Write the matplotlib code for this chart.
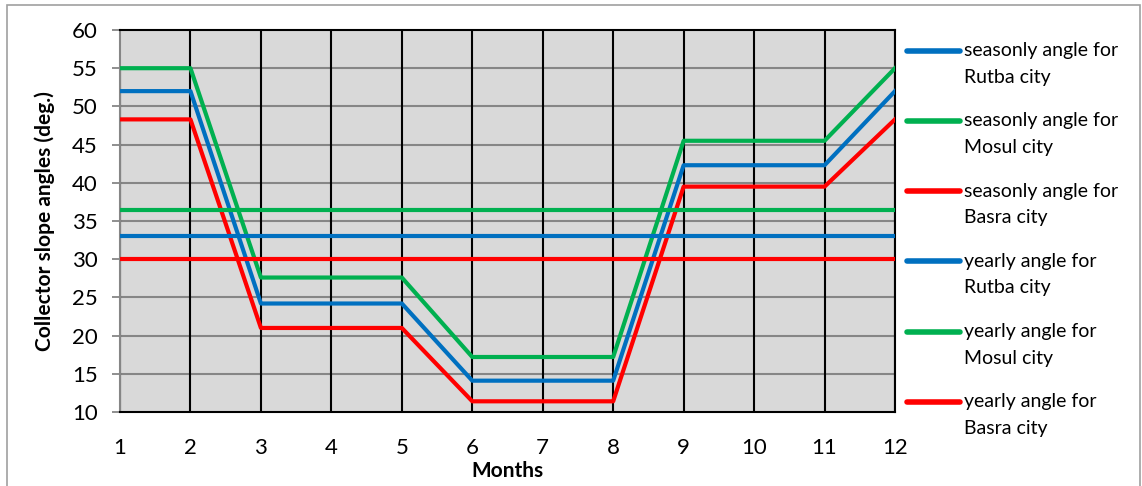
import matplotlib
matplotlib.use("Agg")
import matplotlib.pyplot as plt
from matplotlib.lines import Line2D
from matplotlib.patches import Rectangle

months = list(range(1, 13))

# seasonal tilt (winter, spring, summer, autumn, winter)
rutba_seasonal = [52.0, 52.0, 24.2, 24.2, 24.2, 14.1, 14.1, 14.1, 42.3, 42.3, 42.3, 52.0]
mosul_seasonal = [55.0, 55.0, 27.6, 27.6, 27.6, 17.2, 17.2, 17.2, 45.5, 45.5, 45.5, 55.0]
basra_seasonal = [48.3, 48.3, 21.0, 21.0, 21.0, 11.4, 11.4, 11.4, 39.5, 39.5, 39.5, 48.3]

# yearly fixed tilt
rutba_yearly = 33.1
mosul_yearly = 36.4
basra_yearly = 30.0

blue = "#0070c0"
green = "#00b050"
red = "#ff0000"

plt.rcParams["font.family"] = ["Lato", "DejaVu Sans"]

W, H = 1142, 486
fig = plt.figure(figsize=(W / 100, H / 100), dpi=100)
ax = fig.add_axes([120 / W, 1 - 412 / H, 775 / W, 382 / H])
ax.set_facecolor("#d9d9d9")

series = [
    (rutba_seasonal, blue, "seasonly angle for", "Rutba city"),
    (mosul_seasonal, green, "seasonly angle for", "Mosul city"),
    (basra_seasonal, red, "seasonly angle for", "Basra city"),
    ([rutba_yearly] * 12, blue, "yearly angle for", "Rutba city"),
    ([mosul_yearly] * 12, green, "yearly angle for", "Mosul city"),
    ([basra_yearly] * 12, red, "yearly angle for", "Basra city"),
]
for vals, col, l1, l2 in series:
    ax.plot(months, vals, color=col, lw=3, zorder=3)

ax.set_xlim(1, 12)
ax.set_ylim(10, 60)
ax.set_xticks(months)
ax.set_yticks(range(10, 61, 5))
ax.tick_params(axis="x", length=0, labelsize=16, pad=19)
ax.tick_params(axis="y", length=6, width=1.3, color="#868686", labelsize=16, pad=10)

for y in range(15, 60, 5):
    ax.axhline(y, color="#868686", lw=1.5, zorder=1)
for x in months[1:]:
    ax.axvline(x, color="black", lw=1.5, zorder=1.5)
ax.vlines(1, 10, max(mosul_seasonal), color="black", lw=1.5, zorder=2)

for side in ["top", "right", "bottom"]:
    ax.spines[side].set_color("black")
    ax.spines[side].set_linewidth(1.5)
ax.spines["left"].set_color("#868686")
ax.spines["left"].set_linewidth(1.5)

ax.set_xlabel("Months", fontsize=15, fontweight="bold", labelpad=2)
ax.set_ylabel("Collector slope angles (deg.)", fontsize=15, fontweight="bold", labelpad=12)

# two-line legend entries, key aligned with the first line
for i, (vals, col, l1, l2) in enumerate(series):
    yc = 1 - (50.7 + i * 70.2) / H
    fig.add_artist(Line2D([907 / W, 960 / W], [yc, yc], color=col, lw=4,
                          solid_capstyle="round", transform=fig.transFigure))
    fig.text(964 / W, yc, l1, fontsize=14, va="center", ha="left")
    fig.text(964 / W, yc - 26.5 / H, l2, fontsize=14, va="center", ha="left")

fig.patches.append(Rectangle((7 / W, -10 / H), 1133 / W, (H - 5 + 10) / H,
                             transform=fig.transFigure, fill=False,
                             edgecolor="#a0a0a0", lw=1.2))

fig.savefig("out.png", dpi=100)
